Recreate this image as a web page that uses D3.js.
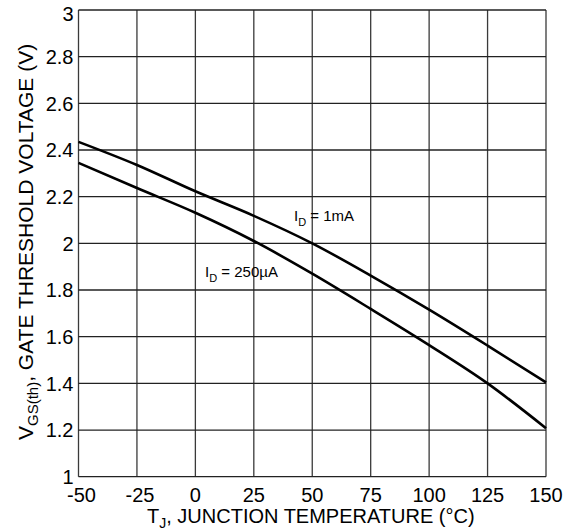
<!DOCTYPE html>
<html>
<head>
<meta charset="utf-8">
<script src="https://cdn.jsdelivr.net/npm/d3@7"></script>
<style>
  html, body { margin: 0; padding: 0; background: #fff; }
  text { font-family: "Liberation Sans", Arial, Helvetica, sans-serif; fill: #000; }
</style>
</head>
<body>
<svg id="chart" width="574" height="532"></svg>
<script>
// ---- data ----
const temps   = [-50, -25, 0, 25, 50, 75, 100, 125, 150];
const id1mA   = [2.435, 2.336, 2.223, 2.118, 2.000, 1.862, 1.716, 1.562, 1.404];
const id250uA = [2.345, 2.237, 2.131, 2.010, 1.870, 1.719, 1.564, 1.400, 1.208];
const xTicks  = [-50, -25, 0, 25, 50, 75, 100, 125, 150];
const yTicks  = [1, 1.2, 1.4, 1.6, 1.8, 2, 2.2, 2.4, 2.6, 2.8, 3];

const W = 574, H = 532;
const m = { left: 78.5, right: 28, top: 10, bottom: 55.3 };
const svg = d3.select("#chart");

const x = d3.scaleLinear().domain([-50, 150]).range([m.left, W - m.right]);
const y = d3.scaleLinear().domain([1, 3]).range([H - m.bottom, m.top]);

// grid
const g = svg.append("g");
g.selectAll("line.v").data(xTicks).join("line")
  .attr("x1", d => x(d)).attr("x2", d => x(d))
  .attr("y1", y(1)).attr("y2", y(3))
  .attr("stroke", "#3a3a3a").attr("stroke-width", 1.3);
g.selectAll("line.h").data(yTicks).join("line")
  .attr("y1", d => y(d)).attr("y2", d => y(d))
  .attr("x1", x(-50)).attr("x2", x(150))
  .attr("stroke", "#222").attr("stroke-width", 1.3);

// y tick labels
g.selectAll("text.yt").data(yTicks).join("text")
  .attr("x", x(-50) - 5)
  .attr("y", d => y(d) + (d === 3 ? 4 : 0))
  .attr("dy", "0.36em")
  .attr("text-anchor", "end")
  .attr("font-size", 20)
  .text(d => String(d));

// x tick labels
g.selectAll("text.xt").data(xTicks).join("text")
  .attr("x", d => x(d) + (d < 0 ? 3 : 0))
  .attr("y", y(1) + 25.5)
  .attr("text-anchor", "middle")
  .attr("font-size", 20)
  .text(d => String(d));

// curves
const line = d3.line().x(d => x(d[0])).y(d => y(d[1])).curve(d3.curveMonotoneX);
[id1mA, id250uA].forEach(series => {
  svg.append("path")
    .datum(temps.map((t, i) => [t, series[i]]))
    .attr("d", line)
    .attr("fill", "none")
    .attr("stroke", "#000")
    .attr("stroke-width", 2.6)
    .attr("stroke-linejoin", "round");
});

// curve labels
function label(px, py, sub, rest) {
  const t = svg.append("text").attr("x", px).attr("y", py).attr("font-size", 15);
  t.append("tspan").text("I");
  t.append("tspan").attr("font-size", 11).attr("dy", 5).text(sub);
  t.append("tspan").attr("dy", -5).text(rest);
}
label(294, 220.5, "D", " = 1mA");
label(205, 277, "D", " = 250µA");

// x axis title
const xt = svg.append("text")
  .attr("x", 147).attr("y", 523)
  .attr("font-size", 20);
xt.append("tspan").text("T");
xt.append("tspan").attr("font-size", 14).attr("dy", 5).text("J");
xt.append("tspan").attr("dy", -5).text(", JUNCTION TEMPERATURE (°C)");

// y axis title
const yt = svg.append("text")
  .attr("transform", "translate(32.5,440) rotate(-90)")
  .attr("x", 0).attr("y", 0)
  .attr("font-size", 21);
yt.append("tspan").text("V");
yt.append("tspan").attr("font-size", 15).attr("dy", 5).text("GS(th)");
yt.append("tspan").attr("dy", -5).text(", GATE THRESHOLD VOLTAGE (V)");
</script>
</body>
</html>
